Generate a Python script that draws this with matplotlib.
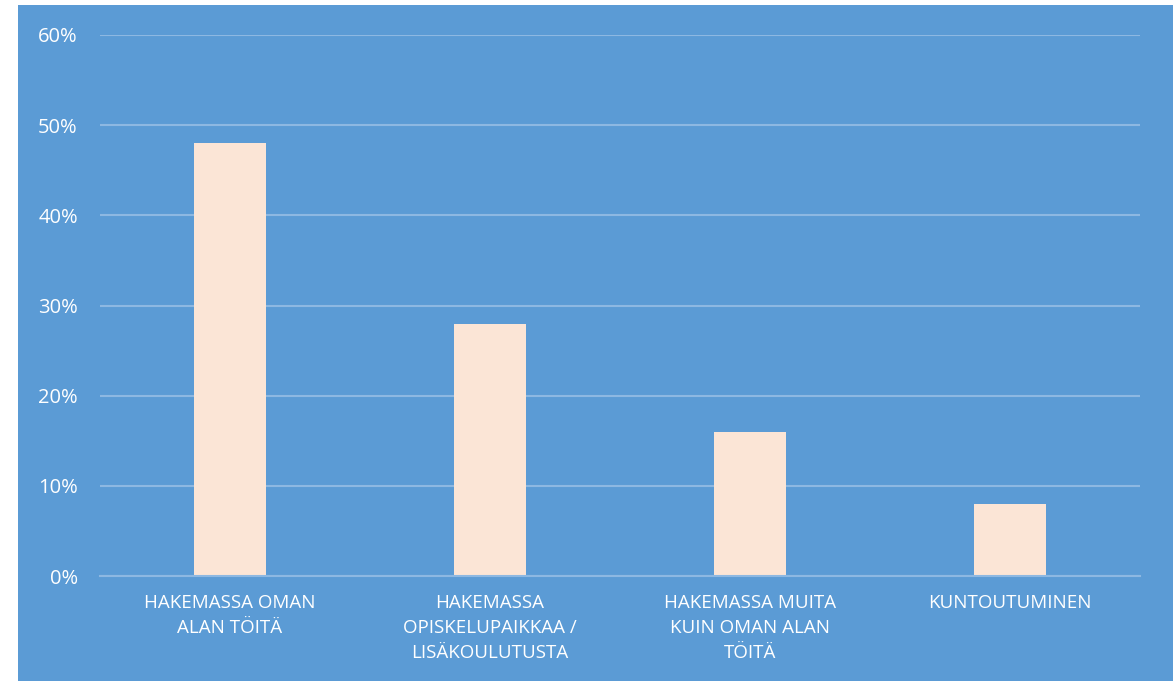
import matplotlib.pyplot as plt
import matplotlib.patches as mpatches
from matplotlib.ticker import PercentFormatter

# ---------- data ----------
categories = [
    'HAKEMASSA OMAN\nALAN TÖITÄ',
    'HAKEMASSA\nOPISKELUPAIKKAA /\nLISÄKOULUTUSTA',
    'HAKEMASSA MUITA\nKUIN OMAN ALAN\nTÖITÄ',
    'KUNTOUTUMINEN',
]
shares = [0.48, 0.28, 0.16, 0.08]
y_ticks = [0.0, 0.1, 0.2, 0.3, 0.4, 0.5, 0.6]

# ---------- style ----------
bg_blue = '#5B9BD5'
bar_color = '#FBE5D6'
grid_color = '#8DB8E2'
plt.rcParams['font.family'] = ['Open Sans', 'DejaVu Sans']

W, H = 1173, 681
fig = plt.figure(figsize=(W / 100, H / 100), dpi=100, facecolor='white')

# blue chart area (behind the axes)
fig.patches.append(mpatches.Rectangle((18 / W, 0), 1, (H - 5) / H,
                                      transform=fig.transFigure,
                                      facecolor=bg_blue, edgecolor='none',
                                      zorder=-10))

ax = fig.add_axes([100 / W, (H - 576) / H, 1040 / W, 541 / H])
ax.set_zorder(1)
ax.set_facecolor('none')

x = range(len(categories))
ax.bar(x, shares, width=0.275, color=bar_color, zorder=3)

ax.set_xlim(-0.5, len(categories) - 0.5)
ax.set_ylim(0, 0.6)
ax.set_yticks(y_ticks)
ax.yaxis.set_major_formatter(PercentFormatter(1.0, decimals=0))
ax.grid(axis='y', color=grid_color, linewidth=1.5, zorder=1)

for side in ['top', 'right', 'left']:
    ax.spines[side].set_visible(False)
ax.spines['bottom'].set_color(grid_color)
ax.spines['bottom'].set_linewidth(1.5)
ax.spines['bottom'].set_zorder(4)

ax.tick_params(axis='y', length=0, pad=16, labelsize=14.5, labelcolor='white')
ax.tick_params(axis='x', length=0, pad=13)
ax.set_xticks(list(x))
ax.set_xticklabels(categories, fontsize=13.5, color='white',
                   linespacing=1.5)

fig.savefig('out.png', dpi=100, facecolor='white')
plt.close(fig)
